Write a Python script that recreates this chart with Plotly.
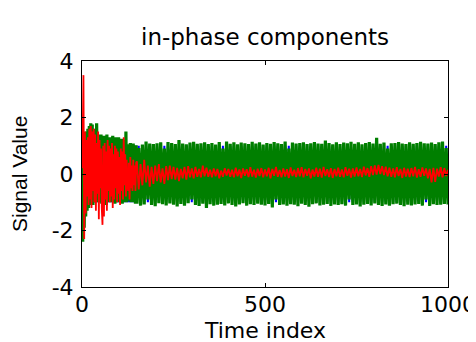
import plotly.graph_objects as go

# ---------------- data ----------------
time_early = list(range(0, 150, 2))        # 75 samples
time_late = list(range(150, 1001, 5))      # 171 samples

blue_early = [
    1, -1, 1, -1, 1, -1, 1, -1, 1, -1,
    1, -1, 1, -1, 1, -1, 1, -1, 1, -1,
    1, -1, 1, -1, 1, -1, 1, -1, 1, -1,
    1, -1, 1, -1, 1, -1, 1, -1, 1, -1,
    1, -1, 1, -1, 1, -1, 1, -1, 1, -1,
    1, -1, 1, -1, 1, -1, 1, -1, 1, -1,
    1, -1, 1, -1, 1, -1, 1, -1, 1, -1,
    1, -1, 1, -1, 1,
]
blue_late = [
    -1, 1, -1, 1, -1, 1, -1, 1, -1, 1,
    -1, 1, -1, 1, -1, 1, -1, 1, -1, 1,
    -1, 1, -1, 1, -1, 1, -1, 1, -1, 1,
    -1, 1, -1, 1, -1, 1, -1, 1, -1, 1,
    -1, 1, -1, 1, -1, 1, -1, 1, -1, 1,
    -1, 1, -1, 1, -1, 1, -1, 1, -1, 1,
    -1, 1, -1, 1, -1, 1, -1, 1, -1, 1,
    -1, 1, -1, 1, -1, 1, -1, 1, -1, 1,
    -1, 1, -1, 1, -1, 1, -1, 1, -1, 1,
    -1, 1, -1, 1, -1, 1, -1, 1, -1, 1,
    -1, 1, -1, 1, -1, 1, -1, 1, -1, 1,
    -1, 1, -1, 1, -1, 1, -1, 1, -1, 1,
    -1, 1, -1, 1, -1, 1, -1, 1, -1, 1,
    -1, 1, -1, 1, -1, 1, -1, 1, -1, 1,
    -1, 1, -1, 1, -1, 1, -1, 1, -1, 1,
    -1, 1, -1, 1, -1, 1, -1, 1, -1, 1,
    -1, 1, -1, 1, -1, 1, -1, 1, -1, 1,
    -1,
]

green_early = [
    1.40, -2.40, 1.30, -1.90, 1.20, -1.50, 1.50, -1.30, 1.60, -1.20,
    1.70, -1.10, 1.80, -1.00, 1.75, -1.10, 1.60, -0.95, 1.50, -1.00,
    1.80, -0.90, 1.40, -1.00, 1.30, -0.95, 1.40, -1.05, 1.30, -0.90,
    1.35, -1.00, 1.20, -1.10, 1.40, -0.95, 1.25, -1.00, 1.30, -0.90,
    1.20, -1.00, 1.35, -0.95, 1.15, -1.05, 1.30, -1.00, 1.20, -0.90,
    1.30, -1.00, 1.10, -0.95, 1.25, -1.05, 1.20, -1.00, 1.10, -0.95,
    1.50, -1.00, 1.00, -0.90, 1.05, -0.95, 1.10, -1.00, 1.05, -0.92,
    1.08, -1.00, 0.90, -1.05, 1.02,
]
green_late = [
    -1.05, 0.92, -1.12, 1.04, -1.08, 1.15, -0.90, 1.08, -1.10, 1.06,
    -1.14, 1.09, -1.03, 1.12, -1.07, 0.90, -1.11, 1.13, -1.04, 1.10,
    -1.09, 1.06, -1.15, 1.20, -1.06, 1.08, -1.12, 1.05, -1.03, 1.11,
    -0.90, 1.14, -1.10, 1.07, -1.13, 1.09, -1.05, 1.12, -1.20, 1.06,
    -1.07, 1.10, -1.12, 1.04, -1.09, 1.13, -1.06, 0.90, -1.11, 1.15,
    -1.04, 1.07, -1.10, 1.12, -1.15, 1.05, -1.08, 1.11, -1.03, 1.09,
    -1.12, 1.06, -1.07, 1.14, -1.10, 1.08, -1.05, 1.12, -1.09, 1.04,
    -1.11, 1.10, -1.06, 1.07, -1.18, 1.13, -0.90, 1.09, -1.10, 1.06,
    -1.08, 1.15, -1.12, 0.90, -1.07, 1.11, -1.09, 1.08, -1.14, 1.10,
    -1.05, 1.12, -1.10, 1.06, -1.16, 1.09, -1.07, 1.13, -1.04, 1.08,
    -1.11, 1.07, -1.09, 1.18, -1.06, 1.10, -1.13, 1.05, -1.08, 1.12,
    -1.10, 1.06, -1.07, 1.11, -1.12, 1.09, -0.90, 1.14, -1.10, 1.07,
    -1.08, 1.12, -1.15, 1.05, -1.09, 1.10, -1.06, 1.13, -1.11, 1.08,
    -1.04, 1.28, -1.10, 1.07, -1.13, 1.11, -1.08, 0.90, -1.12, 1.09,
    -1.07, 1.10, -1.05, 1.13, -1.10, 1.08, -1.14, 1.06, -1.09, 1.12,
    -1.11, 1.07, -1.08, 1.10, -1.06, 1.14, -1.12, 1.09, -0.90, 1.08,
    -1.13, 1.11, -1.07, 1.06, -1.10, 1.12, -1.09, 1.15, -1.06, 0.92,
    -1.08,
]

red_early = [
    0.20, 1.40, 3.50, -2.30, 1.50, -1.40, 1.20, -0.80, 1.30, -1.10,
    1.60, -0.90, 1.70, -1.20, 1.50, -0.60, 1.60, -1.00, 1.40, -1.30,
    1.10, -0.70, 1.50, -1.60, 1.20, -0.50, 0.90, -1.20, -1.80, 1.00,
    -1.50, 1.10, -0.90, 0.80, -1.30, 1.20, -0.60, 1.00, -1.00, 0.90,
    -0.80, 1.10, -1.20, 0.70, -0.90, 1.00, -0.50, 0.90, -1.00, 0.80,
    -0.70, 0.60, -1.10, 0.90, -0.60, 0.80, -0.90, 1.30, -0.40, 0.70,
    -0.80, 0.50, -0.30, -0.60, 0.40, -0.90, 0.60, -0.50, 0.30, -0.60,
    0.50, -0.40, 0.30, -0.60, 0.40,
]
red_late = [
    0.45, -0.55, 0.35, -0.40, 0.50, -0.30, 0.30, -0.45, 0.25, -0.35,
    0.30, -0.25, 0.35, -0.30, 0.20, -0.35, 0.28, -0.22, 0.30, -0.18,
    0.25, -0.20, 0.22, -0.25, 0.18, -0.15, 0.25, -0.20, 0.28, -0.12,
    0.20, -0.15, 0.25, -0.10, 0.18, -0.12, 0.30, -0.08, 0.22, -0.10,
    0.15, -0.12, 0.20, -0.08, 0.18, -0.15, 0.12, -0.10, 0.20, -0.05,
    0.18, -0.10, 0.15, -0.12, 0.22, -0.08, 0.16, -0.14, 0.20, -0.06,
    0.17, -0.11, 0.24, -0.09, 0.15, -0.13, 0.19, -0.07, 0.21, -0.12,
    0.16, -0.08, 0.22, -0.15, 0.18, -0.06, 0.25, -0.10, 0.14, -0.12,
    0.20, -0.09, 0.17, -0.14, 0.23, -0.07, 0.15, -0.11, 0.21, -0.08,
    0.24, -0.12, 0.18, -0.06, 0.20, -0.15, 0.16, -0.09, 0.22, -0.10,
    0.19, -0.13, 0.25, -0.07, 0.17, -0.11, 0.21, -0.14, 0.18, -0.08,
    0.22, -0.10, 0.16, -0.12, 0.24, -0.06, 0.19, -0.13, 0.20, -0.09,
    0.23, -0.08, 0.18, -0.11, 0.26, -0.05, 0.21, -0.10, 0.28, -0.04,
    0.30, -0.02, 0.32, 0.00, 0.28, -0.04, 0.26, -0.08, 0.22, -0.10,
    0.20, -0.12, 0.24, -0.07, 0.18, -0.14, 0.22, -0.09, 0.19, -0.11,
    0.21, -0.08, 0.25, -0.13, 0.17, -0.10, 0.23, -0.06, 0.20, -0.15,
    0.18, -0.30, 0.22, -0.28, 0.19, -0.09, 0.24, -0.12, 0.21, -0.07,
    0.15,
]

x_ticks = [0, 500, 1000]
y_ticks = [-4, -2, 0, 2, 4]
title_text = "in-phase components"
x_label = "Time index"
y_label = "Signal Value"

# ---------------- figure ----------------
t = time_early + time_late
fig = go.Figure()
fig.add_trace(go.Scatter(x=t, y=blue_early + blue_late, mode="lines",
                         line=dict(color="#0000FF", width=2.0, simplify=False),
                         hoverinfo="skip"))
fig.add_trace(go.Scatter(x=t, y=green_early + green_late, mode="lines",
                         line=dict(color="#007F00", width=3.2, simplify=False),
                         hoverinfo="skip"))
fig.add_trace(go.Scatter(x=t, y=red_early + red_late, mode="lines",
                         line=dict(color="#FF0000", width=1.8, simplify=False),
                         hoverinfo="skip"))

font_h = "DejaVu Sans"
axis_common = dict(showline=True, linecolor="black", linewidth=1, mirror="ticks",
                   ticks="inside", ticklen=4, tickcolor="black", tickwidth=1,
                   showgrid=False, zeroline=False, automargin=False,
                   tickfont=dict(family=font_h, size=22, color="black"))

fig.update_xaxes(range=[0, 1000], tickvals=x_ticks, ticktext=[str(v) for v in x_ticks],
                 ticklabelstandoff=-2, **axis_common)
fig.update_yaxes(range=[-4, 4], tickvals=y_ticks, ticktext=[str(v) for v in y_ticks],
                 ticklabelstandoff=3, **axis_common)

# the page body adds an 8px offset, so margins are reduced by 8 on left/top
fig.update_layout(
    width=476, height=342,
    margin=dict(l=74, r=36, t=53, b=63),
    paper_bgcolor="white", plot_bgcolor="white",
    showlegend=False,
    annotations=[
        dict(text=title_text, xref="paper", yref="paper", x=0.5, y=1,
             xanchor="center", yanchor="middle", yshift=24, showarrow=False,
             font=dict(family=font_h, size=23, color="black")),
        dict(text=x_label, xref="paper", yref="paper", x=0.5, y=0,
             xanchor="center", yanchor="middle", yshift=-43, showarrow=False,
             font=dict(family=font_h, size=22, color="black")),
        dict(text=y_label, xref="paper", yref="paper", x=0, y=0.5,
             xanchor="center", yanchor="middle", xshift=-63, textangle=-90,
             showarrow=False,
             font=dict(family="Liberation Sans", size=21, color="black")),
    ],
)

fig.write_html("out.html")
